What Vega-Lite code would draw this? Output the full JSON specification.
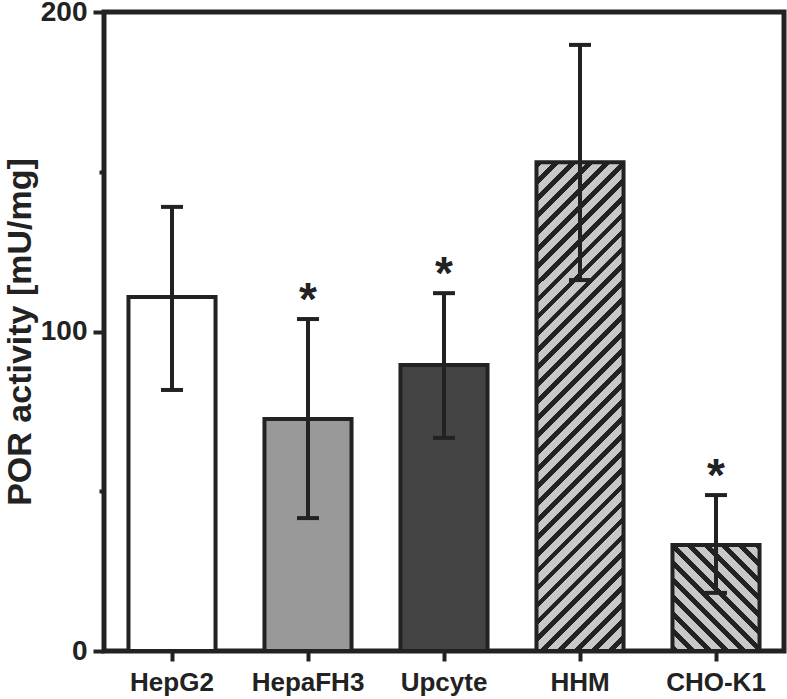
{
  "$schema": "https://vega.github.io/schema/vega-lite/v6.json",
  "width": 680,
  "height": 639,
  "autosize": {"type": "none"},
  "padding": {"left": 104, "top": 12, "right": 3, "bottom": 48},
  "background": "white",
  "config": {
    "view": {"stroke": "#222", "strokeWidth": 5},
    "font": "Liberation Sans"
  },
  "data": {
    "values": [
      {"cell": "HepG2", "value": 110.8, "lo": 81.7, "hi": 139.0, "sig": ""},
      {"cell": "HepaFH3", "value": 72.6, "lo": 41.6, "hi": 103.9, "sig": "*"},
      {"cell": "Upcyte", "value": 89.5, "lo": 66.7, "hi": 112.0, "sig": "*"},
      {"cell": "HHM", "value": 153.0, "lo": 116.1, "hi": 189.7, "sig": ""},
      {"cell": "CHO-K1", "value": 33.2, "lo": 18.2, "hi": 48.8, "sig": "*"}
    ]
  },
  "encoding": {
    "x": {
      "field": "cell",
      "type": "nominal",
      "sort": null,
      "scale": {"paddingInner": 0.36, "paddingOuter": 0.18},
      "axis": {
        "title": null,
        "domain": false,
        "grid": false,
        "tickSize": 10,
        "tickWidth": 4,
        "tickColor": "#222",
        "labelAngle": 0,
        "labelFont": "Liberation Sans",
        "labelFontSize": 26,
        "labelFontWeight": "bold",
        "labelColor": "#222",
        "labelPadding": 8
      }
    }
  },
  "layer": [
    {
      "transform": [{"filter": "indexof(['HepG2','HepaFH3','Upcyte'], datum.cell) >= 0"}],
      "mark": {"type": "bar", "stroke": "#222", "strokeWidth": 4},
      "encoding": {
        "y": {
          "field": "value",
          "type": "quantitative",
          "scale": {"domain": [0, 200], "nice": false},
          "axis": {
            "title": "POR activity [mU/mg]",
            "values": [0, 50, 100, 150, 200],
            "labelExpr": "datum.value % 100 === 0 ? datum.label : ''",
            "domain": false,
            "grid": false,
            "tickSize": {"condition": {"test": "datum.value % 100 === 0", "value": 11}, "value": 5},
            "tickWidth": 4,
            "tickColor": "#222",
            "labelFont": "Liberation Sans",
            "labelFontSize": 28,
            "labelFontWeight": "bold",
            "labelColor": "#222",
            "labelPadding": 6,
            "titleFont": "Liberation Sans",
            "titleFontSize": 34,
            "titleFontWeight": "bold",
            "titleColor": "#222",
            "titlePadding": 3
          }
        },
        "fill": {
          "field": "cell",
          "type": "nominal",
          "scale": {"domain": ["HepG2", "HepaFH3", "Upcyte"], "range": ["#ffffff", "#999999", "#444444"]},
          "legend": null
        }
      }
    },
    {
      "transform": [{"filter": "datum.cell === 'HHM'"}],
      "mark": {
        "type": "bar",
        "stroke": "#222",
        "strokeWidth": 4,
        "fill": {
          "gradient": "linear",
          "x1": 0, "y1": 0, "x2": 0.2033, "y2": 1.142,
          "stops": [
            {"offset": 0, "color": "#222"}, {"offset": 0.01176, "color": "#222"}, {"offset": 0.01176, "color": "#c8c8c8"}, {"offset": 0.02941, "color": "#c8c8c8"},
            {"offset": 0.02941, "color": "#222"}, {"offset": 0.04118, "color": "#222"}, {"offset": 0.04118, "color": "#c8c8c8"}, {"offset": 0.05882, "color": "#c8c8c8"},
            {"offset": 0.05882, "color": "#222"}, {"offset": 0.07059, "color": "#222"}, {"offset": 0.07059, "color": "#c8c8c8"}, {"offset": 0.08824, "color": "#c8c8c8"},
            {"offset": 0.08824, "color": "#222"}, {"offset": 0.1, "color": "#222"}, {"offset": 0.1, "color": "#c8c8c8"}, {"offset": 0.11765, "color": "#c8c8c8"},
            {"offset": 0.11765, "color": "#222"}, {"offset": 0.12941, "color": "#222"}, {"offset": 0.12941, "color": "#c8c8c8"}, {"offset": 0.14706, "color": "#c8c8c8"},
            {"offset": 0.14706, "color": "#222"}, {"offset": 0.15882, "color": "#222"}, {"offset": 0.15882, "color": "#c8c8c8"}, {"offset": 0.17647, "color": "#c8c8c8"},
            {"offset": 0.17647, "color": "#222"}, {"offset": 0.18824, "color": "#222"}, {"offset": 0.18824, "color": "#c8c8c8"}, {"offset": 0.20588, "color": "#c8c8c8"},
            {"offset": 0.20588, "color": "#222"}, {"offset": 0.21765, "color": "#222"}, {"offset": 0.21765, "color": "#c8c8c8"}, {"offset": 0.23529, "color": "#c8c8c8"},
            {"offset": 0.23529, "color": "#222"}, {"offset": 0.24706, "color": "#222"}, {"offset": 0.24706, "color": "#c8c8c8"}, {"offset": 0.26471, "color": "#c8c8c8"},
            {"offset": 0.26471, "color": "#222"}, {"offset": 0.27647, "color": "#222"}, {"offset": 0.27647, "color": "#c8c8c8"}, {"offset": 0.29412, "color": "#c8c8c8"},
            {"offset": 0.29412, "color": "#222"}, {"offset": 0.30588, "color": "#222"}, {"offset": 0.30588, "color": "#c8c8c8"}, {"offset": 0.32353, "color": "#c8c8c8"},
            {"offset": 0.32353, "color": "#222"}, {"offset": 0.33529, "color": "#222"}, {"offset": 0.33529, "color": "#c8c8c8"}, {"offset": 0.35294, "color": "#c8c8c8"},
            {"offset": 0.35294, "color": "#222"}, {"offset": 0.36471, "color": "#222"}, {"offset": 0.36471, "color": "#c8c8c8"}, {"offset": 0.38235, "color": "#c8c8c8"},
            {"offset": 0.38235, "color": "#222"}, {"offset": 0.39412, "color": "#222"}, {"offset": 0.39412, "color": "#c8c8c8"}, {"offset": 0.41176, "color": "#c8c8c8"},
            {"offset": 0.41176, "color": "#222"}, {"offset": 0.42353, "color": "#222"}, {"offset": 0.42353, "color": "#c8c8c8"}, {"offset": 0.44118, "color": "#c8c8c8"},
            {"offset": 0.44118, "color": "#222"}, {"offset": 0.45294, "color": "#222"}, {"offset": 0.45294, "color": "#c8c8c8"}, {"offset": 0.47059, "color": "#c8c8c8"},
            {"offset": 0.47059, "color": "#222"}, {"offset": 0.48235, "color": "#222"}, {"offset": 0.48235, "color": "#c8c8c8"}, {"offset": 0.5, "color": "#c8c8c8"},
            {"offset": 0.5, "color": "#222"}, {"offset": 0.51176, "color": "#222"}, {"offset": 0.51176, "color": "#c8c8c8"}, {"offset": 0.52941, "color": "#c8c8c8"},
            {"offset": 0.52941, "color": "#222"}, {"offset": 0.54118, "color": "#222"}, {"offset": 0.54118, "color": "#c8c8c8"}, {"offset": 0.55882, "color": "#c8c8c8"},
            {"offset": 0.55882, "color": "#222"}, {"offset": 0.57059, "color": "#222"}, {"offset": 0.57059, "color": "#c8c8c8"}, {"offset": 0.58824, "color": "#c8c8c8"},
            {"offset": 0.58824, "color": "#222"}, {"offset": 0.6, "color": "#222"}, {"offset": 0.6, "color": "#c8c8c8"}, {"offset": 0.61765, "color": "#c8c8c8"},
            {"offset": 0.61765, "color": "#222"}, {"offset": 0.62941, "color": "#222"}, {"offset": 0.62941, "color": "#c8c8c8"}, {"offset": 0.64706, "color": "#c8c8c8"},
            {"offset": 0.64706, "color": "#222"}, {"offset": 0.65882, "color": "#222"}, {"offset": 0.65882, "color": "#c8c8c8"}, {"offset": 0.67647, "color": "#c8c8c8"},
            {"offset": 0.67647, "color": "#222"}, {"offset": 0.68824, "color": "#222"}, {"offset": 0.68824, "color": "#c8c8c8"}, {"offset": 0.70588, "color": "#c8c8c8"},
            {"offset": 0.70588, "color": "#222"}, {"offset": 0.71765, "color": "#222"}, {"offset": 0.71765, "color": "#c8c8c8"}, {"offset": 0.73529, "color": "#c8c8c8"},
            {"offset": 0.73529, "color": "#222"}, {"offset": 0.74706, "color": "#222"}, {"offset": 0.74706, "color": "#c8c8c8"}, {"offset": 0.76471, "color": "#c8c8c8"},
            {"offset": 0.76471, "color": "#222"}, {"offset": 0.77647, "color": "#222"}, {"offset": 0.77647, "color": "#c8c8c8"}, {"offset": 0.79412, "color": "#c8c8c8"},
            {"offset": 0.79412, "color": "#222"}, {"offset": 0.80588, "color": "#222"}, {"offset": 0.80588, "color": "#c8c8c8"}, {"offset": 0.82353, "color": "#c8c8c8"},
            {"offset": 0.82353, "color": "#222"}, {"offset": 0.83529, "color": "#222"}, {"offset": 0.83529, "color": "#c8c8c8"}, {"offset": 0.85294, "color": "#c8c8c8"},
            {"offset": 0.85294, "color": "#222"}, {"offset": 0.86471, "color": "#222"}, {"offset": 0.86471, "color": "#c8c8c8"}, {"offset": 0.88235, "color": "#c8c8c8"},
            {"offset": 0.88235, "color": "#222"}, {"offset": 0.89412, "color": "#222"}, {"offset": 0.89412, "color": "#c8c8c8"}, {"offset": 0.91176, "color": "#c8c8c8"},
            {"offset": 0.91176, "color": "#222"}, {"offset": 0.92353, "color": "#222"}, {"offset": 0.92353, "color": "#c8c8c8"}, {"offset": 0.94118, "color": "#c8c8c8"},
            {"offset": 0.94118, "color": "#222"}, {"offset": 0.95294, "color": "#222"}, {"offset": 0.95294, "color": "#c8c8c8"}, {"offset": 0.97059, "color": "#c8c8c8"},
            {"offset": 0.97059, "color": "#222"}, {"offset": 0.98235, "color": "#222"}, {"offset": 0.98235, "color": "#c8c8c8"}, {"offset": 1, "color": "#c8c8c8"}
          ]
        }
      },
      "encoding": {
        "y": {"field": "value", "type": "quantitative"}
      }
    },
    {
      "transform": [{"filter": "datum.cell === 'CHO-K1'"}],
      "mark": {
        "type": "bar",
        "stroke": "#222",
        "strokeWidth": 4,
        "fill": {
          "gradient": "linear",
          "x1": 0, "y1": 1, "x2": 0.8924, "y2": -0.0883,
          "stops": [
            {"offset": 0, "color": "#222"}, {"offset": 0.03521, "color": "#222"}, {"offset": 0.03521, "color": "#c8c8c8"}, {"offset": 0.08803, "color": "#c8c8c8"},
            {"offset": 0.08803, "color": "#222"}, {"offset": 0.12324, "color": "#222"}, {"offset": 0.12324, "color": "#c8c8c8"}, {"offset": 0.17606, "color": "#c8c8c8"},
            {"offset": 0.17606, "color": "#222"}, {"offset": 0.21127, "color": "#222"}, {"offset": 0.21127, "color": "#c8c8c8"}, {"offset": 0.26408, "color": "#c8c8c8"},
            {"offset": 0.26408, "color": "#222"}, {"offset": 0.2993, "color": "#222"}, {"offset": 0.2993, "color": "#c8c8c8"}, {"offset": 0.35211, "color": "#c8c8c8"},
            {"offset": 0.35211, "color": "#222"}, {"offset": 0.38732, "color": "#222"}, {"offset": 0.38732, "color": "#c8c8c8"}, {"offset": 0.44014, "color": "#c8c8c8"},
            {"offset": 0.44014, "color": "#222"}, {"offset": 0.47535, "color": "#222"}, {"offset": 0.47535, "color": "#c8c8c8"}, {"offset": 0.52817, "color": "#c8c8c8"},
            {"offset": 0.52817, "color": "#222"}, {"offset": 0.56338, "color": "#222"}, {"offset": 0.56338, "color": "#c8c8c8"}, {"offset": 0.6162, "color": "#c8c8c8"},
            {"offset": 0.6162, "color": "#222"}, {"offset": 0.65141, "color": "#222"}, {"offset": 0.65141, "color": "#c8c8c8"}, {"offset": 0.70423, "color": "#c8c8c8"},
            {"offset": 0.70423, "color": "#222"}, {"offset": 0.73944, "color": "#222"}, {"offset": 0.73944, "color": "#c8c8c8"}, {"offset": 0.79225, "color": "#c8c8c8"},
            {"offset": 0.79225, "color": "#222"}, {"offset": 0.82746, "color": "#222"}, {"offset": 0.82746, "color": "#c8c8c8"}, {"offset": 0.88028, "color": "#c8c8c8"},
            {"offset": 0.88028, "color": "#222"}, {"offset": 0.91549, "color": "#222"}, {"offset": 0.91549, "color": "#c8c8c8"}, {"offset": 0.96831, "color": "#c8c8c8"},
            {"offset": 0.96831, "color": "#222"}, {"offset": 1, "color": "#222"}
          ]
        }
      },
      "encoding": {
        "y": {"field": "value", "type": "quantitative"}
      }
    },
    {
      "mark": {"type": "rule", "color": "#222", "strokeWidth": 4},
      "encoding": {
        "y": {"field": "lo", "type": "quantitative"},
        "y2": {"field": "hi"}
      }
    },
    {
      "mark": {"type": "tick", "color": "#222", "size": 22, "thickness": 4, "opacity": 1},
      "encoding": {
        "y": {"field": "hi", "type": "quantitative"}
      }
    },
    {
      "mark": {"type": "tick", "color": "#222", "size": 22, "thickness": 4, "opacity": 1},
      "encoding": {
        "y": {"field": "lo", "type": "quantitative"}
      }
    },
    {
      "transform": [{"filter": "datum.sig !== ''"}],
      "mark": {"type": "text", "color": "#222", "font": "Liberation Sans", "fontSize": 46, "fontWeight": "bold", "baseline": "alphabetic", "dy": -4},
      "encoding": {
        "y": {"field": "hi", "type": "quantitative"},
        "text": {"field": "sig"}
      }
    }
  ]
}
